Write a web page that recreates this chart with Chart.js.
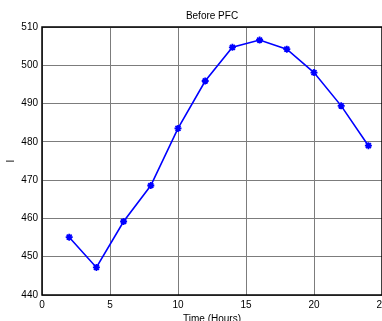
<!DOCTYPE html>
<html>
<head>
<meta charset="utf-8">
<title>Before PFC</title>
<script src="https://cdn.jsdelivr.net/npm/chart.js@4"></script>
<style>
    html, body { margin: 0; padding: 0; background: #fff; overflow: hidden; }
    canvas { display: block; }
</style>
</head>
<body>
<canvas id="chart" width="382" height="330"></canvas>
<script>
// Values
const hours   = [2, 4, 6, 8, 10, 12, 14, 16, 18, 20, 22, 24];
const current = [455.1, 447.2, 459.2, 468.6, 483.5, 495.9, 504.7, 506.6, 504.2, 498.1, 489.4, 479.0];

const xTicks = [0, 5, 10, 15, 20, 25];
const yTicks = [440, 450, 460, 470, 480, 490, 500, 510];

const FONT = { family: '"Liberation Sans", Arial, sans-serif', size: 10 };

// MATLAB style box round the axes
const frame = {
    id: 'frame',
    afterDraw(chart) {
        const a = chart.chartArea, ctx = chart.ctx;
        ctx.save();
        ctx.strokeStyle = '#000';
        ctx.lineWidth = 1.5;
        ctx.strokeRect(a.left, a.top, a.right - a.left, a.bottom - a.top);
        ctx.restore();
    }
};

Chart.defaults.font.family = FONT.family;
Chart.defaults.font.size = FONT.size;
Chart.defaults.color = '#000';

new Chart(document.getElementById('chart'), {
    type: 'line',
    data: {
        datasets: [{
            label: 'I',
            data: hours.map((h, i) => ({ x: h, y: current[i] })),
            borderColor: '#0000ff',
            backgroundColor: '#0000ff',
            borderWidth: 1.6,
            tension: 0,
            fill: false,
            pointStyle: 'star',
            pointRadius: 3.5,
            pointBorderWidth: 1.8,
            pointBorderColor: '#0000ff'
        }]
    },
    options: {
        responsive: false,
        animation: false,
        layout: { padding: 0, autoPadding: false },
        plugins: {
            legend: { display: false },
            tooltip: { enabled: false },
            title: {
                display: true,
                text: 'Before PFC',
                fullSize: false,
                font: { size: 10, weight: 'normal' },
                padding: { top: 10, bottom: 5 }
            }
        },
        scales: {
            x: {
                type: 'linear',
                min: 0,
                max: 25,
                afterBuildTicks: s => { s.ticks = xTicks.map(v => ({ value: v })); },
                afterFit: s => { s.height = 35; s.paddingLeft = 0; s.paddingRight = 0; },
                ticks: { padding: 4, maxRotation: 0, autoSkip: false },
                grid: { color: '#7c7c7c', lineWidth: 1, drawTicks: false },
                border: { display: false },
                title: { display: true, text: 'Time (Hours)', padding: { top: 0, bottom: 5 } }
            },
            y: {
                min: 440,
                max: 510,
                afterBuildTicks: s => { s.ticks = yTicks.map(v => ({ value: v })); },
                afterFit: s => { s.width = 42; },
                ticks: { padding: 4, autoSkip: false },
                grid: { color: '#7c7c7c', lineWidth: 1, drawTicks: false },
                border: { display: false },
                title: { display: true, text: 'I', padding: { top: 5, bottom: 0 } }
            }
        }
    },
    plugins: [frame]
});
</script>
</body>
</html>
